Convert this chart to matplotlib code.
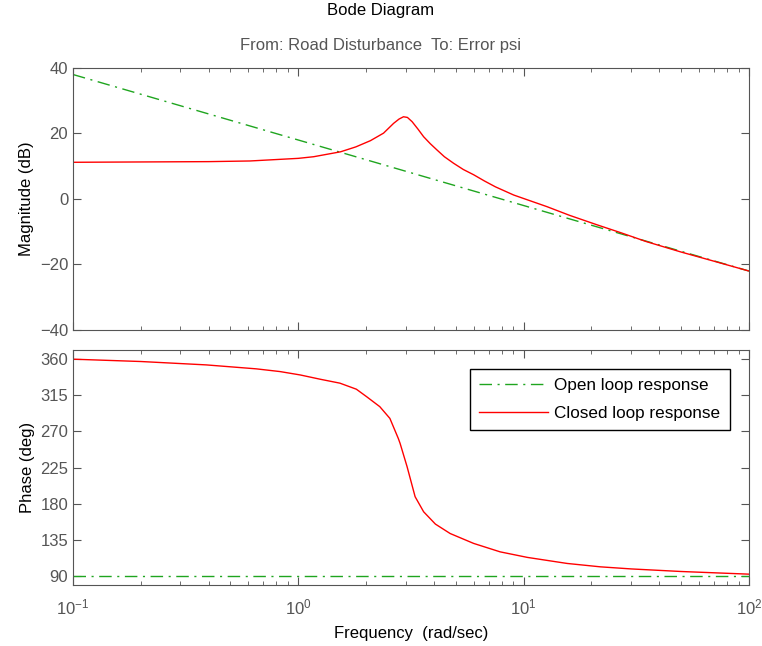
import matplotlib.pyplot as plt
import matplotlib.ticker as mticker

# frequencies (rad/sec) and values
freq_open = [0.1, 1.0, 10.0, 100.0]
mag_open = [38.0, 18.0, -2.0, -22.0]
phase_open = [90.0, 90.0, 90.0, 90.0]

freq_mag = [0.1, 0.2, 0.4, 0.61, 1.0, 1.17, 1.54, 1.8, 2.09, 2.39, 2.65, 2.8, 2.93,
            3.05, 3.2, 3.4, 3.6, 3.85, 4.12, 4.45, 4.89, 5.4, 6.0, 6.7, 7.5, 9.04,
            12.7, 16.0, 21.2, 27.0, 35.0, 50.0, 70.0, 100.0]
mag_closed = [11.2, 11.3, 11.4, 11.6, 12.4, 12.9, 14.4, 15.9, 17.8, 20.1, 23.1, 24.4, 25.1,
              24.9, 23.6, 21.3, 19.0, 16.9, 15.0, 12.9, 10.9, 9.0, 7.4, 5.5, 3.7, 1.2,
              -2.35, -5.0, -7.9, -10.3, -13.0, -16.2, -19.0, -22.0]

freq_phase = [0.1, 0.2, 0.39, 0.65, 0.83, 1.02, 1.25, 1.53, 1.81, 2.01, 2.3, 2.55, 2.78,
              2.83, 3.04, 3.3, 3.6, 4.06, 4.72, 6.0, 7.87, 10.4, 15.6, 21.9, 30.0, 50.0, 100.0]
phase_closed = [359.6, 356.7, 352.5, 347.6, 344.2, 340.0, 334.7, 329.8, 322.3, 313.0, 300.6,
                286.0, 261.0, 255.0, 226.0, 188.7, 170.0, 154.7, 143.0, 130.7, 120.2, 113.3,
                105.8, 101.6, 99.0, 95.8, 92.5]

mag_ticks = [-40, -20, 0, 20, 40]
phase_ticks = [90, 135, 180, 225, 270, 315, 360]

plt.rcParams['font.family'] = ['Liberation Sans', 'DejaVu Sans']
plt.rcParams['mathtext.fontset'] = 'custom'
plt.rcParams['mathtext.rm'] = 'Liberation Sans'
plt.rcParams['mathtext.it'] = 'Liberation Sans:italic'
plt.rcParams['mathtext.bf'] = 'Liberation Sans:bold'
gray = '#555555'
green = '#1fa51f'
dashdot = (0, (9, 4, 1.5, 4))
fs = 12

fig = plt.figure(figsize=(7.62, 6.46), dpi=100)
ax1 = fig.add_axes([0.0958, 0.4892, 0.887, 0.4056])
ax2 = fig.add_axes([0.0958, 0.0944, 0.887, 0.3638])

ax1.plot(freq_open, mag_open, color=green, linestyle=dashdot, linewidth=1)
ax1.plot(freq_mag, mag_closed, color='red', linewidth=1)
ax2.plot(freq_open, phase_open, color=green, linestyle=dashdot, linewidth=1,
         label='Open loop response')
ax2.plot(freq_phase, phase_closed, color='red', linewidth=1, label='Closed loop response')

for ax in (ax1, ax2):
    ax.set_xscale('log')
    ax.set_xlim(0.1, 100)
    ax.tick_params(which='both', direction='in', top=True, right=True,
                   colors=gray, labelsize=fs)
    ax.tick_params(which='major', length=6)
    ax.tick_params(which='minor', length=3)
    ax.tick_params(axis='x', which='major', pad=9)
    ax.xaxis.set_minor_locator(mticker.LogLocator(base=10, subs=range(2, 10)))
    ax.xaxis.set_minor_formatter(mticker.NullFormatter())
    for s in ax.spines.values():
        s.set_color(gray)

ax1.set_ylim(-40, 40)
ax1.set_yticks(mag_ticks)
ax1.tick_params(labelbottom=False)
ax1.set_ylabel('Magnitude (dB)', fontsize=fs)

ax2.set_ylim(79, 371)
ax2.set_yticks(phase_ticks)
ax2.set_ylabel('Phase (deg)', fontsize=fs)
ax2.set_xlabel('Frequency  (rad/sec)', fontsize=fs, labelpad=6)

fig.align_ylabels([ax1, ax2])

leg = ax2.legend(loc='upper right', bbox_to_anchor=(0.972, 0.921), borderaxespad=0,
                 fontsize=12.3, fancybox=False, framealpha=1, edgecolor='black',
                 borderpad=0.55, handlelength=4.0, handletextpad=0.4, labelspacing=0.75)
leg.get_frame().set_linewidth(1)

fig.text(0.5, 0.9845, 'Bode Diagram', ha='center', va='center', fontsize=fs)
fig.text(0.5, 0.929, 'From: Road Disturbance  To: Error psi', ha='center', va='center',
         fontsize=fs, color=gray)

fig.savefig('out.png', dpi=100)
